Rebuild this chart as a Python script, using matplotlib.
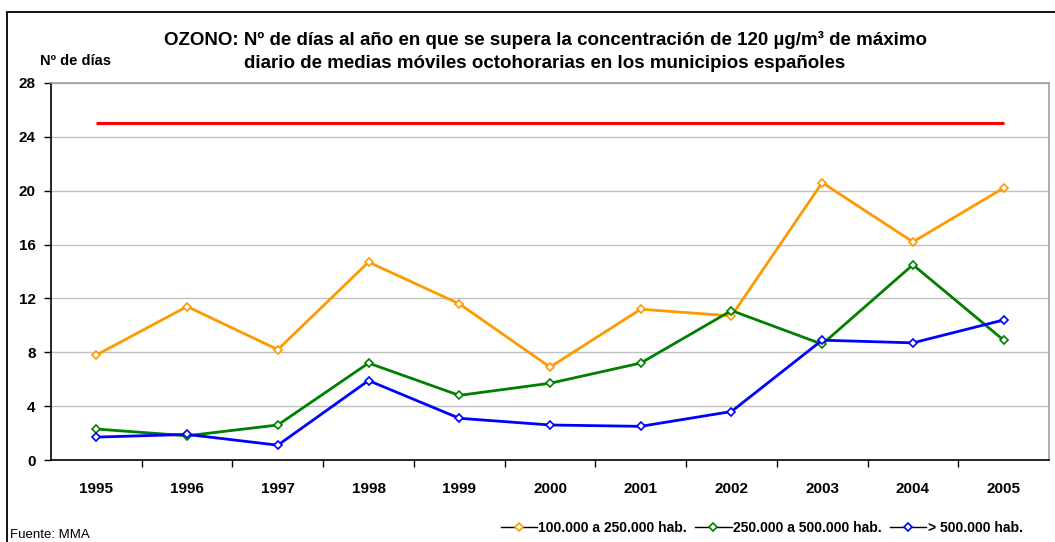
import matplotlib
matplotlib.use("Agg")
import matplotlib.pyplot as plt
from matplotlib.lines import Line2D
from matplotlib.patches import Rectangle

plt.rcParams['font.family'] = ['Liberation Sans', 'DejaVu Sans']

years = ['1995', '1996', '1997', '1998', '1999', '2000', '2001', '2002', '2003', '2004', '2005']
pob_100_250 = [7.8, 11.4, 8.2, 14.7, 11.6, 6.9, 11.2, 10.7, 20.6, 16.2, 20.2]
pob_250_500 = [2.3, 1.8, 2.6, 7.2, 4.8, 5.7, 7.2, 11.1, 8.6, 14.5, 8.9]
pob_500 = [1.7, 1.9, 1.1, 5.9, 3.1, 2.6, 2.5, 3.6, 8.9, 8.7, 10.4]
limite = [25] * len(years)
labels = ['100.000 a 250.000 hab.', '250.000 a 500.000 hab.', '> 500.000 hab.']
colors = ['#FF9900', '#008000', '#0000FF']

fig = plt.figure(figsize=(10.55, 5.42), dpi=100)
ax = fig.add_axes([51 / 1055, 82 / 542, 998 / 1055, 377 / 542])

x = list(range(len(years)))
ax.plot(x, limite, color='#FF0000', lw=2.2, solid_capstyle='butt')
for serie, c in zip([pob_100_250, pob_250_500, pob_500], colors):
    ax.plot(x, serie, color=c, lw=2, marker='D', ms=4.5,
            mfc='white', mec=c, mew=1.2)

ax.set_xlim(-0.5, len(years) - 0.5)
ax.set_ylim(0, 28)
ax.set_yticks(range(0, 29, 4))
ax.set_xticks(x)
ax.set_xticklabels(years, fontsize=11, fontweight='bold')
ax.set_xticks([i + 0.5 for i in x[:-1]], minor=True)
ax.tick_params(axis='x', which='major', length=0, pad=16)
ax.tick_params(axis='x', which='minor', length=5, width=1, color='black')
ax.tick_params(axis='y', length=5, width=1, labelsize=11, pad=6)
for t in ax.get_yticklabels():
    t.set_fontweight('bold')
ax.yaxis.grid(True, color='#C0C0C0', lw=1)
ax.set_axisbelow(True)
for side in ['top', 'right']:
    ax.spines[side].set_color('#A0A0A0')
    ax.spines[side].set_linewidth(1.2)
for side in ['left', 'bottom']:
    ax.spines[side].set_color('black')
    ax.spines[side].set_linewidth(1.2)

fig.text(545 / 1055, 1 - 40 / 542,
         'OZONO: Nº de días al año en que se supera la concentración de 120 µg/m³ de máximo',
         ha='center', va='center', fontsize=13.5, fontweight='bold')
fig.text(545 / 1055, 1 - 63 / 542,
         'diario de medias móviles octohorarias en los municipios españoles',
         ha='center', va='center', fontsize=13.5, fontweight='bold')
fig.text(40 / 1055, 1 - 61 / 542, 'Nº de días', ha='left', va='center',
         fontsize=10.5, fontweight='bold')
fig.text(10 / 1055, 1 - 535 / 542, 'Fuente: MMA', ha='left', va='center', fontsize=9.5)

handles = [Line2D([], [], color='black', lw=1, marker='D', ms=4.5, mfc='white', mec=c, mew=1.2)
           for c in colors]
fig.legend(handles, labels, loc='center right', bbox_to_anchor=(1035 / 1055, 1 - 528 / 542),
           ncol=3, frameon=False, handlelength=2.6, handletextpad=0.1, columnspacing=0.6,
           prop={'weight': 'bold', 'size': 10})

fig.add_artist(Rectangle((7 / 1055, -0.05), 1.1, 1 - 12 / 542 + 0.05, transform=fig.transFigure,
                         fill=False, ec='black', lw=1.3, clip_on=False))

fig.savefig('out.png', dpi=100)
